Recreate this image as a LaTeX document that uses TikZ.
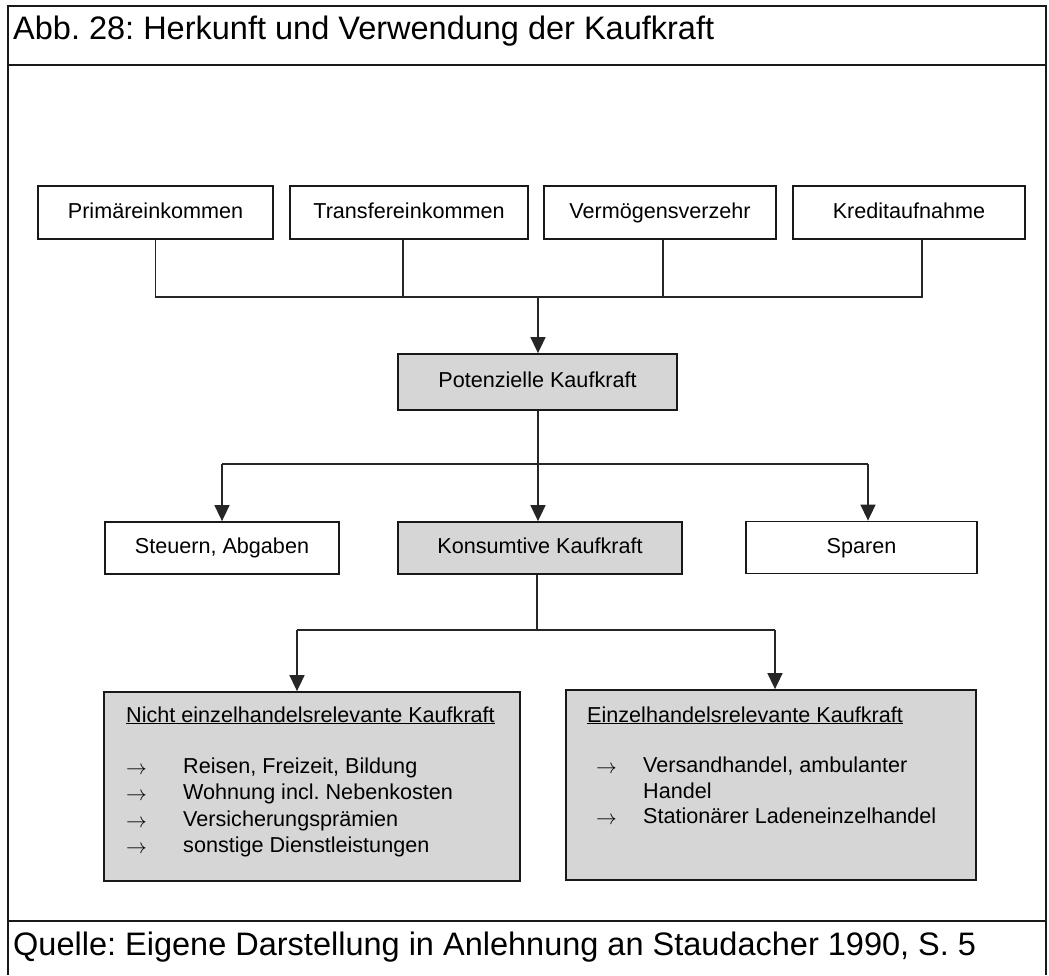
\documentclass[tikz,border=0pt]{standalone}
\usepackage{fontspec}
\setmainfont{Liberation Sans}
\usetikzlibrary{arrows.meta,calc}
\frenchspacing
\begin{document}
\begin{tikzpicture}[x=1pt,y=-1pt,
  textfont/.style={font=\fontsize{21.6}{26}\selectfont},
  box/.style={draw=black!90,line width=1.8pt,fill=white,inner sep=0pt,
    text height=15.5pt,text depth=4.5pt,minimum height=53pt,textfont},
  shaded/.style={fill=black!16},
  link/.style={line width=1.6pt,draw=black!85},
  arr/.style={link,-{Triangle[length=16pt,width=15pt]}},
  item/.style={anchor=base west,inner sep=0pt,textfont},
  bullet/.style={anchor=base west,inner sep=0pt,font=\fontsize{20.5}{24}\selectfont},
  heading/.style={anchor=base west,inner sep=0pt,font=\fontsize{32.5}{39}\selectfont},
  frame/.style={line width=1.8pt,draw=black!90}
]
\useasboundingbox (0,0) rectangle (1049,975);

% outer frame with title and source rows
\draw[frame] (8,975) -- (8,6) -- (1046,6) -- (1046,975);
\draw[frame] (8,65) -- (1046,65);
\draw[frame] (8,921) -- (1046,921);
\node[heading] (title) at (13,39) {Abb. 28: Herkunft und Verwendung der Kaufkraft};
\node[heading] (source) at (13,955) {Quelle: Eigene Darstellung in Anlehnung an Staudacher 1990, S. 5};

% sources of purchasing power
\node[box,minimum width=235pt] (prim)  at (155.5,212.5) {Primäreinkommen};
\node[box,minimum width=238pt] (trans) at (409,212.5)   {Transfereinkommen};
\node[box,minimum width=232pt] (verm)  at (660,212.5)   {Vermögensverzehr};
\node[box,minimum width=232pt] (kred)  at (909,212.5)   {Kreditaufnahme};

\node[box,shaded,minimum width=279pt,minimum height=56pt] (pot) at (537.5,382) {Potenzielle Kaufkraft};

\coordinate (bar) at (538,297);
\draw[link] (prim.south) |- ([xshift=13pt]kred.south |- bar) -- ([xshift=13pt]kred.south);
\draw[link] ([xshift=-6pt]trans.south) -- ([xshift=-6pt]trans.south |- bar);
\draw[link] ([xshift=3pt]verm.south) -- ([xshift=3pt]verm.south |- bar);
\draw[arr] (bar) -- (bar |- pot.north);

% use of purchasing power
\node[box,minimum width=234pt,minimum height=52pt] (steu) at (222,548) {Steuern, Abgaben};
\node[box,shaded,minimum width=284pt,minimum height=52pt] (kons) at (540,548) {Konsumtive Kaufkraft};
\node[box,minimum width=231pt,minimum height=52pt] (spar) at (861.5,547.5) {Sparen};

\coordinate (split) at (538,464);
\draw[link] (split |- pot.south) -- (split);
\draw[link] (steu.north |- split) -- ([xshift=6.5pt]spar.north |- split);
\draw[arr] (steu.north |- split) -- (steu.north);
\draw[arr] (split) -- (split |- kons.north);
\draw[arr] ([xshift=6.5pt]spar.north |- split) -- ([xshift=6.5pt]spar.north);

% retail relevance
\node[box,shaded,minimum width=416pt,minimum height=189pt] (nicht) at (312,786.5) {};
\node[box,shaded,minimum width=410pt,minimum height=190pt] (einz) at (771,785) {};

\coordinate (forkL) at (297,630);
\coordinate (forkR) at (775,630);
\coordinate (forkM) at (537,630);
\draw[link] (forkM |- kons.south) -- (forkM);
\draw[link] (forkL) -- (forkR);
\draw[arr] (forkL) -- (forkL |- nicht.north);
\draw[arr] (forkR) -- (forkR |- einz.north);

% contents of the left box
\node[item] (nh) at (126,722) {\underline{Nicht einzelhandelsrelevante Kaufkraft}};
\node[bullet] (na1) at (126,774) {$\rightarrow$};
\node[item]   (n1)  at (183,773) {Reisen, Freizeit, Bildung};
\node[bullet] (na2) at (126,800.5) {$\rightarrow$};
\node[item]   (n2)  at (183,799.5) {Wohnung incl. Nebenkosten};
\node[bullet] (na3) at (126,827) {$\rightarrow$};
\node[item]   (n3)  at (183,826) {Versicherungsprämien};
\node[bullet] (na4) at (126,853.5) {$\rightarrow$};
\node[item]   (n4)  at (183,852.5) {sonstige Dienstleistungen};

% contents of the right box
\node[item] (eh) at (587,722) {\underline{Einzelhandelsrelevante Kaufkraft}};
\node[bullet] (ea1) at (596,773) {$\rightarrow$};
\node[item]   (e1)  at (643,772) {Versandhandel, ambulanter};
\node[item]   (e1b) at (643,798) {Handel};
\node[bullet] (ea2) at (596,824) {$\rightarrow$};
\node[item]   (e2)  at (643,823) {Stationärer Ladeneinzelhandel};
\end{tikzpicture}
\end{document}
